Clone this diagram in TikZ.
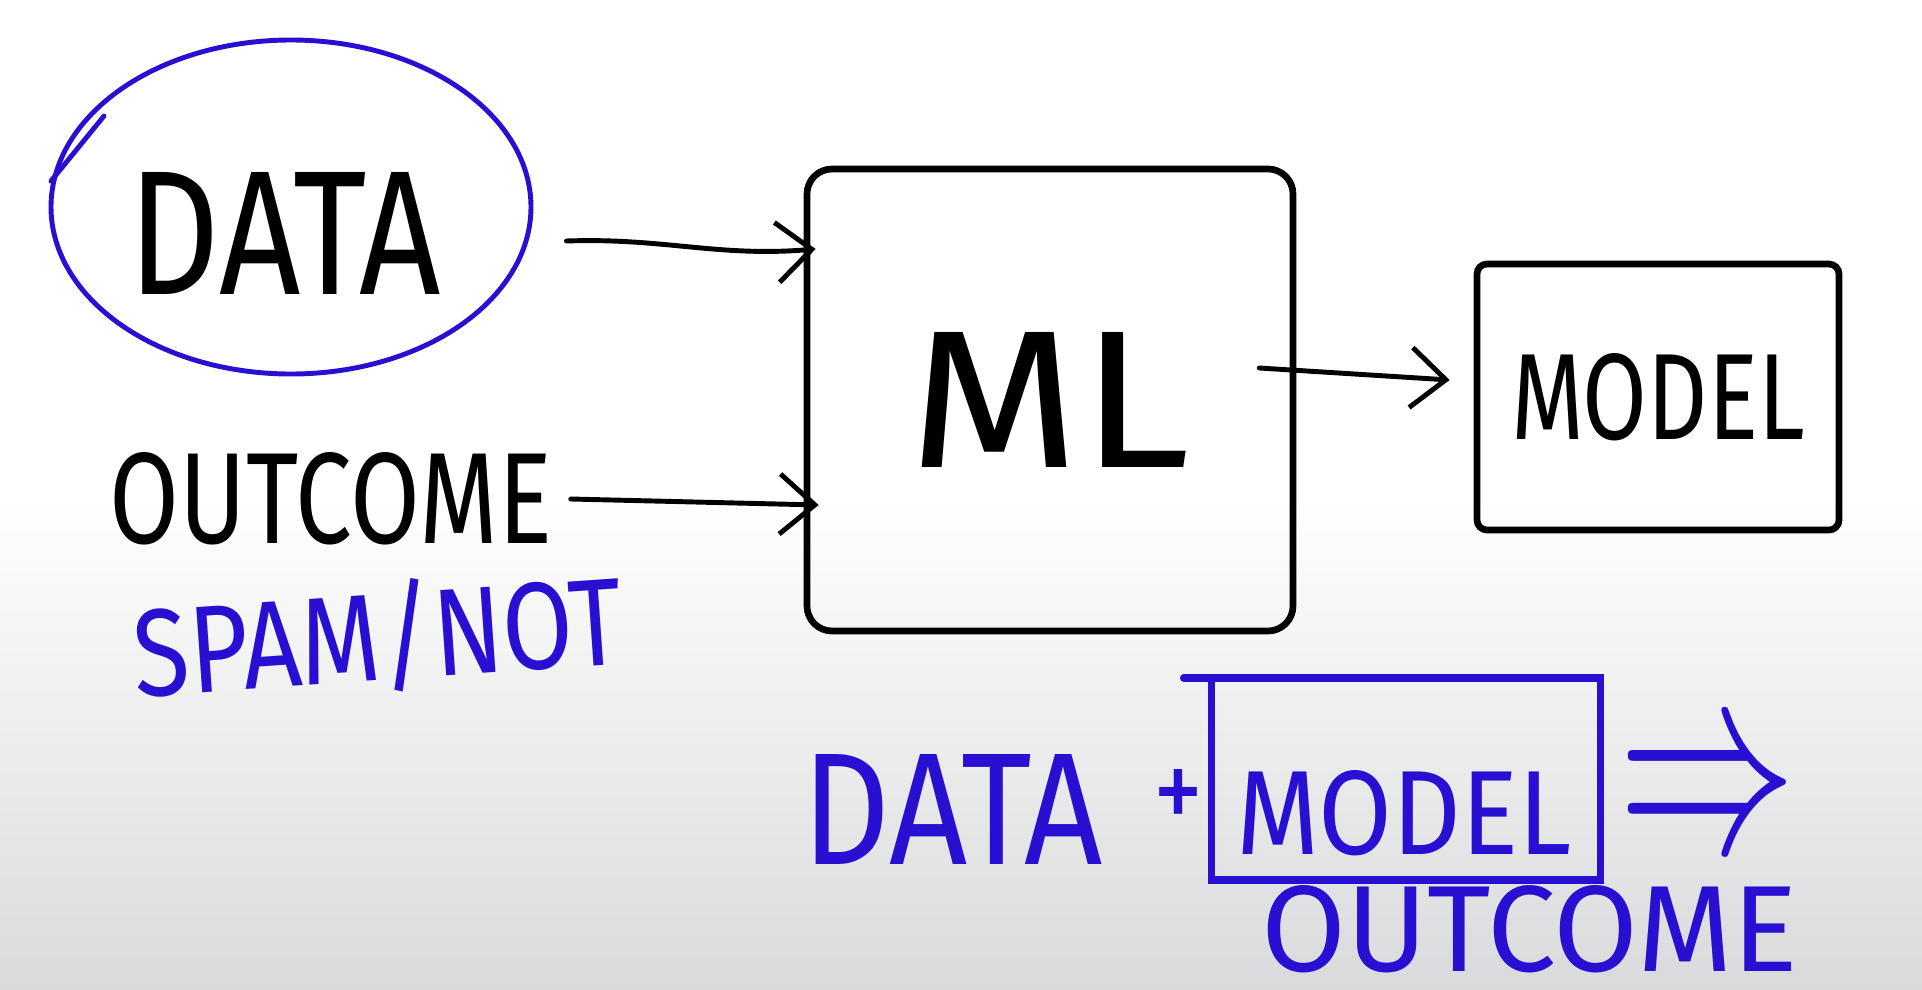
\documentclass[tikz,border=0pt]{standalone}
\usepackage{fontspec}
\usepackage{graphicx}
\newfontfamily\hand{Fira Sans}
\usetikzlibrary{positioning,shapes.geometric,arrows.meta}
\definecolor{inkblue}{RGB}{40,15,210}
\definecolor{boardgray}{RGB}{218,218,220}
\newcommand{\sketch}[3]{\resizebox{#1}{#2}{\hand #3}}
\tikzset{
  word/.style={inner sep=0pt},
  feed/.style={line width=1.4pt,line cap=round,-{Straight Barb[length=3.5mm,width=6mm]}},
}
\begin{document}
\begin{tikzpicture}
\useasboundingbox (0,0) rectangle (19.22,9.89);
\fill[white] (0,0) rectangle (19.22,9.89);
\shade[top color=white,bottom color=boardgray] (0,0) rectangle (19.22,4.9);

% inputs
\node[draw=inkblue,line width=1.4pt,ellipse,minimum width=4.8cm,minimum height=3.34cm] (dataring) at (2.91,7.82) {};
\draw[inkblue,line width=1.4pt,line cap=round] (0.51,8.08) -- (1.04,8.73);
\node[word] (data) at (2.85,7.56) {\sketch{3.12cm}{1.22cm}{DATA}};
\node[word] (outcome) at (3.31,4.90) {\sketch{4.42cm}{0.91cm}{OUTCOME}};
\node[word,inkblue,rotate=4] (spam) at (3.78,3.52) {\sketch{4.9cm}{1.0cm}{SPAM/NOT}};

\node[draw,line width=1.9pt,rounded corners=0.25cm,minimum width=4.86cm,minimum height=4.62cm] (ml) at (10.50,5.89) {\sketch{2.82cm}{1.35cm}{ML}};
\node[draw,line width=1.9pt,rounded corners=0.1cm,minimum width=3.62cm,minimum height=2.66cm] (model) at (16.58,5.92) {\sketch{2.94cm}{0.86cm}{MODEL}};

\draw[feed] ([xshift=0.33cm,yshift=-0.34cm]dataring.east) to[out=2,in=185] ([xshift=0.12cm,yshift=1.51cm]ml.west);
\draw[feed] ([xshift=0.18cm]outcome.east) -- ([xshift=0.15cm,yshift=-1.05cm]ml.west);
\draw[feed] ([xshift=-0.37cm,yshift=0.32cm]ml.east) -- ([xshift=-0.24cm,yshift=0.17cm]model.west);

% use of the model
\node[word,inkblue] (bdata) at (9.53,1.80) {\sketch{3.0cm}{1.10cm}{DATA}};
\node[word,inkblue] (plus) at (11.78,1.89) {\sketch{0.5cm}{0.62cm}{+}};
\node[draw=inkblue,line width=2pt,outer sep=0pt,minimum width=3.89cm,minimum height=2.02cm] (bmodel) at (14.06,2.10) {};
\draw[inkblue,line width=2pt,line cap=round] ([xshift=-0.28cm]bmodel.north west) -- (bmodel.north west);
\node[word,inkblue] (bmodeltext) at (14.04,1.76) {\sketch{3.35cm}{0.84cm}{MODEL}};
\node[word,inkblue] (implies) at (17.07,1.89) {\resizebox*{1.78cm}{1.0cm}{$\Rightarrow$}};
\node[word,inkblue] (boutcome) at (15.3,0.60) {\sketch{5.37cm}{0.86cm}{OUTCOME}};

\end{tikzpicture}
\end{document}
